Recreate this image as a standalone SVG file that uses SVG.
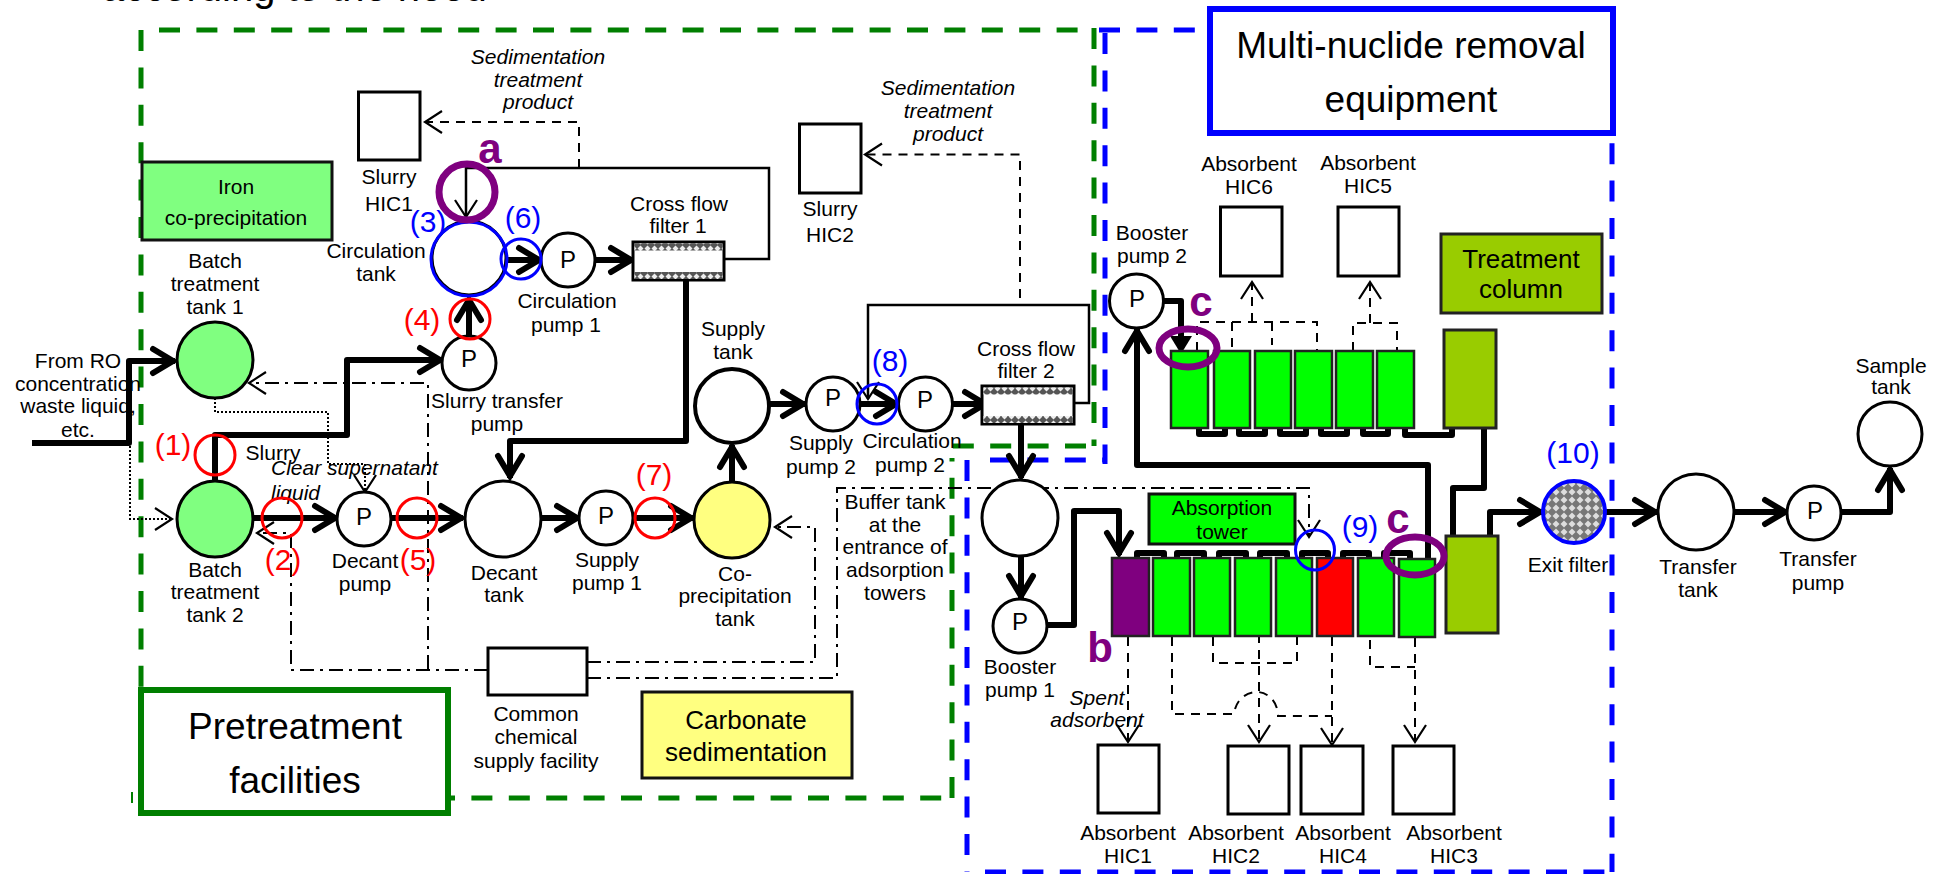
<svg xmlns="http://www.w3.org/2000/svg" width="1943" height="874" viewBox="0 0 1943 874">
<style>
text{font-family:"Liberation Sans",Arial,sans-serif;font-size:21px;text-anchor:middle;fill:#000}
.i{font-style:italic}
.big{font-size:37px}
.mid{font-size:26px}
.p{font-size:24px}
.nr{font-size:30px;fill:#f00}
.nb{font-size:30px;fill:#00f}
.pl{font-size:42px;font-weight:bold;fill:#7f007f}
.tk{fill:#fff;stroke:#000;stroke-width:3}
.hic{fill:#fff;stroke:#000;stroke-width:3}
.col{fill:#0f0;stroke:#222;stroke-width:2.5}
.th{fill:none;stroke:#000;stroke-width:6;stroke-linejoin:round}
.thA{marker-end:url(#ta)}
.tn{fill:none;stroke:#000;stroke-width:2.5}
.da{fill:none;stroke:#000;stroke-width:2;stroke-dasharray:9 7}
.dd{fill:none;stroke:#000;stroke-width:2;stroke-dasharray:14 6 3 6}
.dt{fill:none;stroke:#000;stroke-width:2;stroke-dasharray:2 2}
.u{fill:none;stroke:#000;stroke-width:6;stroke-linejoin:round;stroke-linecap:round}
.rr{fill:none;stroke:#f00;stroke-width:3}
.rb{fill:none;stroke:#00f;stroke-width:3}
.rp{fill:none;stroke:#7f007f;stroke-width:7}
.gd{fill:none;stroke:#007f00;stroke-width:5;stroke-dasharray:21 16.400}
.bd{fill:none;stroke:#00f;stroke-width:5;stroke-dasharray:21 16.400}
</style>
<defs>
<marker id="ta" markerUnits="userSpaceOnUse" markerWidth="60" markerHeight="60" refX="30" refY="30" orient="auto" viewBox="0 0 60 60" overflow="visible"><path d="M8,18 L28,30 L8,42" fill="none" stroke="#000" stroke-width="6" stroke-linecap="round" stroke-linejoin="miter"/></marker>
<marker id="oa" markerUnits="userSpaceOnUse" markerWidth="40" markerHeight="40" refX="20" refY="20" orient="auto" viewBox="0 0 40 40" overflow="visible"><path d="M3,9 L20,20 L3,31" fill="none" stroke="#000" stroke-width="2.2"/></marker>
<pattern id="hatch" width="7" height="7" patternUnits="userSpaceOnUse"><rect width="7" height="7" fill="#555"/><path d="M3.500,0.500 L6.500,3.500 L3.500,6.500 L0.500,3.500Z" fill="#eee"/></pattern>
<pattern id="hatch2" width="8" height="8" patternUnits="userSpaceOnUse"><rect width="8" height="8" fill="#777"/><path d="M4,0.500 L7.500,4 L4,7.500 L0.500,4Z" fill="#ddd"/></pattern>
</defs>

<text x="102" y="1" style="font-size:40px;text-anchor:start">according to the need</text>

<g id="regions">
<path class="gd" d="M159,30 H1078"/>
<path class="gd" d="M141,30 V798"/>
<path class="gd" d="M1094,28 V446"/>
<path class="gd" d="M1086,446 H952"/>
<path class="gd" d="M952,798 V458"/>
<path class="gd" d="M434,798 H952"/>
<path d="M132,792 V803" fill="none" stroke="#007f00" stroke-width="2"/>
<path class="bd" d="M1105,33 V464"/>
<path class="bd" d="M1099,30 H1210"/>
<path class="bd" d="M1612,31 V872"/>
<path class="bd" d="M967,460 V872"/>
<path class="bd" d="M985,872 H1612"/>
<path class="bd" d="M990,460 H1105"/>
</g>

<g id="connectors">
<path class="th thA" d="M32,443 H129 V361 H175"/>
<path class="th thA" d="M215,481 V435 H347 V360 H442"/>
<path class="th thA" d="M469,337 V298"/>
<path class="th thA" d="M507,260 H541"/>
<path class="th thA" d="M595,260 H633"/>
<path class="th thA" d="M686,280 V441 H510 V478"/>
<path class="th thA" d="M253,518 H337"/>
<path class="th thA" d="M391,518 H463"/>
<path class="th thA" d="M541,518 H579"/>
<path class="th thA" d="M633,518 H693"/>
<path class="th thA" d="M732,482 V445"/>
<path class="th thA" d="M770,404 H805"/>
<path class="th thA" d="M860,404 H898"/>
<path class="th thA" d="M952,404 H987"/>
<path class="th thA" d="M1021,424 V478"/>
<path class="th thA" d="M1021,556 V598"/>
<path class="th thA" d="M1047,625 H1074 V511 H1119 V555"/>
<path class="th thA" d="M1428,558 V465 H1137 V329"/>
<path class="th" d="M1164,301 H1181 V340"/>
<polygon points="1170,336 1192,336 1181,354" fill="#000"/>
<path class="th" d="M1484,428 V488 H1453 V536"/>
<path class="th thA" d="M1490,536 V512 H1542"/>
<path class="th thA" d="M1605,512 H1657"/>
<path class="th thA" d="M1734,512 H1787"/>
<path class="th thA" d="M1841,512 H1890 V468"/>

<path class="tn" d="M721,259 H769 V168 H466 V217" marker-end="url(#oa)"/>
<path class="tn" d="M1074,403 H1089 V305 H868 V399" marker-end="url(#oa)"/>

<path class="da" d="M579,168 V122 H425" marker-end="url(#oa)"/>
<path class="da" d="M1020,298 V154.500 H865" marker-end="url(#oa)"/>

<path class="dt" d="M215,398 V412 H328 V464 H365 V492" marker-end="url(#oa)"/>
<path class="dt" d="M130,446 V519 H172" marker-end="url(#oa)"/>

<path class="dd" d="M428,669 V383 H249" marker-end="url(#oa)"/>
<path class="dd" d="M488,670 H291 V533 H257" marker-end="url(#oa)"/>
<path class="dd" d="M587,662 H815 V527 H775" marker-end="url(#oa)"/>
<path class="dd" d="M587,678 H837 V488 H1309 V537" marker-end="url(#oa)"/>

<g id="lower-tower-links">
<path class="u" d="M1137,558 V553 H1164 V558"/>
<path class="u" d="M1177,558 V553 H1204 V558"/>
<path class="u" d="M1219,558 V553 H1246 V558"/>
<path class="u" d="M1260,558 V553 H1287 V558"/>
<path class="u" d="M1302,558 V553 H1328 V558"/>
<path class="u" d="M1343,558 V553 H1369 V558"/>
<path class="u" d="M1384,558 V553 H1410 V558"/>
</g>
<g id="upper-tower-links">
<path class="u" d="M1199,428 V434 H1225 V428"/>
<path class="u" d="M1239,428 V434 H1265 V428"/>
<path class="u" d="M1280,428 V434 H1306 V428"/>
<path class="u" d="M1321,428 V434 H1347 V428"/>
<path class="u" d="M1363,428 V434 H1388 V428"/>
<path class="u" d="M1405,428 V435 H1452 V428"/>
</g>

<path class="da" d="M1252,322 V282" marker-end="url(#oa)"/>
<path class="da" d="M1197,351 V322 H1317 V351 M1232,322 V351 M1272,322 V345"/>
<path class="da" d="M1370,323 V282" marker-end="url(#oa)"/>
<path class="da" d="M1353,351 V323 H1397 V351"/>

<path class="da" d="M1128,637 V742" marker-end="url(#oa)"/>
<path class="da" d="M1259,634 V742" marker-end="url(#oa)"/>
<path class="da" d="M1332,637 V745" marker-end="url(#oa)"/>
<path class="da" d="M1415,638 V742" marker-end="url(#oa)"/>
<path class="da" d="M1172,637 V714 H1234 C1236,698 1248,692 1257,692 C1268,692 1278,702 1278,716 H1332"/>
<path class="da" d="M1213,637 V663 H1297 V637"/>
<path class="da" d="M1370,640 V667 H1415"/>
</g>

<g id="label-from-ro">
<text x="78" y="368">From RO</text><text x="78" y="391">concentration</text><text x="78" y="413">waste liquid,</text><text x="78" y="437">etc.</text>
</g>

<g id="iron-box"><rect x="142" y="162" width="190" height="78" fill="#80ff80" stroke="#111" stroke-width="3"/><text x="236" y="194">Iron</text><text x="236" y="225">co-precipitation</text></g>

<g id="batch-1"><circle cx="215" cy="360" r="38" fill="#80ff80" stroke="#000" stroke-width="3"/><text x="215" y="268">Batch</text><text x="215" y="291">treatment</text><text x="215" y="314">tank 1</text></g>
<g id="batch-2"><circle cx="215" cy="519" r="38" fill="#80ff80" stroke="#000" stroke-width="3"/><text x="215" y="577">Batch</text><text x="215" y="599">treatment</text><text x="215" y="622">tank 2</text></g>
<text x="273" y="460">Slurry</text>
<text class="i" x="271" y="475" style="text-anchor:start">Clear supernatant</text>
<text class="i" x="271" y="500" style="text-anchor:start">liquid</text>

<g id="slurry-hic1"><rect class="hic" x="358.500" y="92" width="61.500" height="68"/><text x="389" y="184">Slurry</text><text x="389" y="211">HIC1</text></g>
<g id="sed-1"><text class="i" x="538" y="64">Sedimentation</text><text class="i" x="538" y="87">treatment</text><text class="i" x="538" y="109">product</text></g>

<g id="circ-tank"><circle class="tk" cx="469" cy="258" r="37"/><ellipse cx="469" cy="259" rx="38" ry="37" fill="none" stroke="#00f" stroke-width="3"/><text x="376" y="258">Circulation</text><text x="376" y="281">tank</text></g>
<g id="circ-pump-1"><circle class="tk" cx="568" cy="260" r="27"/><text class="p" x="568" y="268">P</text><text x="567" y="308">Circulation</text><text x="566" y="332">pump 1</text></g>
<g id="slurry-pump"><circle class="tk" cx="469" cy="363" r="27"/><text class="p" x="469" y="367">P</text><text x="497" y="408">Slurry transfer</text><text x="497" y="431">pump</text></g>

<g id="filter-1"><rect x="633" y="242" width="91" height="38" fill="#fff" stroke="#000" stroke-width="3"/><rect x="634.500" y="243.500" width="88" height="7" fill="url(#hatch)"/><rect x="634.500" y="272" width="88" height="7" fill="url(#hatch)"/><text x="679" y="211">Cross flow</text><text x="678" y="233">filter 1</text></g>

<g id="decant-pump"><circle class="tk" cx="364" cy="519" r="27"/><text class="p" x="364" y="525">P</text><text x="365" y="568">Decant</text><text x="365" y="591">pump</text></g>
<g id="decant-tank"><circle class="tk" cx="503" cy="519" r="38"/><text x="504" y="580">Decant</text><text x="504" y="602">tank</text></g>
<g id="supply-pump-1"><circle class="tk" cx="606" cy="518" r="27"/><text class="p" x="606" y="524">P</text><text x="607" y="567">Supply</text><text x="607" y="590">pump 1</text></g>
<g id="coprecip-tank"><circle cx="732" cy="520" r="38" fill="#ffff80" stroke="#000" stroke-width="3"/><text x="735" y="581">Co-</text><text x="735" y="603">precipitation</text><text x="735" y="626">tank</text></g>
<g id="supply-tank"><circle cx="732" cy="406" r="37" fill="#fff" stroke="#000" stroke-width="4"/><text x="733" y="336">Supply</text><text x="733" y="359">tank</text></g>
<g id="supply-pump-2"><circle class="tk" cx="833" cy="404" r="27"/><text class="p" x="833" y="406">P</text><text x="821" y="450">Supply</text><text x="821" y="474">pump 2</text></g>
<g id="circ-pump-2"><circle class="tk" cx="925.500" cy="404" r="27"/><text class="p" x="925" y="408">P</text><text x="912" y="448">Circulation</text><text x="910" y="472">pump 2</text></g>
<g id="filter-2"><rect x="982" y="386" width="92" height="38" fill="#fff" stroke="#000" stroke-width="3"/><rect x="983.500" y="387.500" width="89" height="7" fill="url(#hatch)"/><rect x="983.500" y="416" width="89" height="7" fill="url(#hatch)"/><text x="1026" y="356">Cross flow</text><text x="1026" y="378">filter 2</text></g>
<g id="slurry-hic2"><rect class="hic" x="799.500" y="124" width="61.500" height="69"/><text x="830" y="216">Slurry</text><text x="830" y="242">HIC2</text></g>
<g id="sed-2"><text class="i" x="948" y="95">Sedimentation</text><text class="i" x="948" y="118">treatment</text><text class="i" x="948" y="141">product</text></g>

<g id="buffer-label"><text x="895" y="509">Buffer tank</text><text x="895" y="532">at the</text><text x="895" y="554">entrance of</text><text x="895" y="577">adsorption</text><text x="895" y="600">towers</text></g>
<g id="chemical"><rect class="hic" x="488" y="648" width="99" height="47"/><text x="536" y="721">Common</text><text x="536" y="744">chemical</text><text x="536" y="768">supply facility</text></g>
<g id="carbonate-box"><rect x="642" y="692" width="210" height="86" fill="#ffff80" stroke="#111" stroke-width="3"/><text class="mid" x="746" y="729">Carbonate</text><text class="mid" x="746" y="761">sedimentation</text></g>

<g id="pretreatment"><rect x="141" y="690" width="307" height="123" fill="#fff" stroke="#007f00" stroke-width="6"/><text class="big" x="295" y="739">Pretreatment</text><text class="big" x="295" y="793">facilities</text></g>
<g id="multi-nuclide"><rect x="1210" y="9" width="403" height="124" fill="#fff" stroke="#00f" stroke-width="6"/><text class="big" x="1411" y="58">Multi-nuclide removal</text><text class="big" x="1411" y="112">equipment</text></g>

<g id="buffer-tank"><circle cx="1020" cy="518" r="38" fill="#fff" stroke="#000" stroke-width="3"/></g>
<g id="booster-1"><circle class="tk" cx="1020" cy="626" r="27"/><text class="p" x="1020" y="630">P</text><text x="1020" y="674">Booster</text><text x="1020" y="697">pump 1</text></g>
<g id="booster-2"><circle class="tk" cx="1136.500" cy="301" r="27"/><text class="p" x="1137" y="307">P</text><text x="1152" y="240">Booster</text><text x="1152" y="263">pump 2</text></g>

<g id="absorption-box"><rect x="1149" y="494" width="146" height="50" fill="#0f0" stroke="#111" stroke-width="3"/><text x="1222" y="515">Absorption</text><text x="1222" y="539">tower</text></g>
<g id="lower-tower">
<rect class="col" x="1112" y="558" width="37" height="78" style="fill:#7f007f"/>
<rect class="col" x="1153" y="558" width="37" height="78"/>
<rect class="col" x="1194" y="558" width="36" height="78"/>
<rect class="col" x="1235" y="558" width="36" height="78"/>
<rect class="col" x="1276" y="558" width="36" height="78"/>
<rect class="col" x="1317" y="558" width="36" height="78" style="fill:#f00"/>
<rect class="col" x="1358" y="558" width="36" height="78"/>
<rect class="col" x="1399" y="559" width="36" height="78"/>
</g>
<g id="upper-tower">
<rect class="col" x="1171" y="351" width="37" height="77"/>
<rect class="col" x="1214" y="351" width="36" height="77"/>
<rect class="col" x="1255" y="351" width="36" height="77"/>
<rect class="col" x="1295" y="351" width="37" height="77"/>
<rect class="col" x="1336" y="351" width="37" height="77"/>
<rect class="col" x="1377" y="351" width="37" height="77"/>
</g>
<g id="treatment-box"><rect x="1441" y="234" width="161" height="79" fill="#9c0" stroke="#222" stroke-width="3"/><text class="mid" x="1521" y="268">Treatment</text><text class="mid" x="1521" y="298">column</text></g>
<g id="treatment-upper"><rect x="1444" y="330" width="52" height="98" fill="#9c0" stroke="#222" stroke-width="3"/></g>
<g id="treatment-lower"><rect x="1446" y="536" width="52" height="97" fill="#9c0" stroke="#222" stroke-width="3"/></g>

<g id="absorbent-hic6"><rect class="hic" x="1220.500" y="207" width="61.500" height="69"/><text x="1249" y="171">Absorbent</text><text x="1249" y="194">HIC6</text></g>
<g id="absorbent-hic5"><rect class="hic" x="1338" y="207" width="61" height="69"/><text x="1368" y="170">Absorbent</text><text x="1368" y="193">HIC5</text></g>
<g id="absorbent-hic1"><rect class="hic" x="1098" y="745" width="61" height="68"/><text x="1128" y="840">Absorbent</text><text x="1128" y="863">HIC1</text></g>
<g id="absorbent-hic2"><rect class="hic" x="1228" y="746" width="61" height="68"/><text x="1236" y="840">Absorbent</text><text x="1236" y="863">HIC2</text></g>
<g id="absorbent-hic4"><rect class="hic" x="1301" y="746" width="62" height="68"/><text x="1343" y="840">Absorbent</text><text x="1343" y="863">HIC4</text></g>
<g id="absorbent-hic3"><rect class="hic" x="1393" y="746" width="61" height="68"/><text x="1454" y="840">Absorbent</text><text x="1454" y="863">HIC3</text></g>
<text class="i" x="1097" y="705">Spent</text><text class="i" x="1097" y="727">adsorbent</text>

<g id="exit-filter"><circle cx="1574" cy="512" r="31" fill="url(#hatch2)" stroke="#00f" stroke-width="4"/><text x="1568" y="572">Exit filter</text></g>
<g id="transfer-tank"><circle class="tk" cx="1696" cy="512" r="38"/><text x="1698" y="574">Transfer</text><text x="1698" y="597">tank</text></g>
<g id="transfer-pump"><circle class="tk" cx="1814" cy="513" r="27"/><text class="p" x="1815" y="519">P</text><text x="1818" y="566">Transfer</text><text x="1818" y="590">pump</text></g>
<g id="sample-tank"><circle class="tk" cx="1890" cy="434" r="32"/><text x="1891" y="373">Sample</text><text x="1891" y="394">tank</text></g>

<g id="markers">
<ellipse class="rr" cx="215" cy="455" rx="20" ry="20"/><text class="nr" x="173" y="455">(1)</text>
<ellipse class="rr" cx="282" cy="518" rx="20" ry="20"/><text class="nr" x="283" y="570">(2)</text>
<ellipse class="rr" cx="470" cy="319" rx="20" ry="20"/><text class="nr" x="422" y="330">(4)</text>
<ellipse class="rr" cx="417" cy="518" rx="20" ry="20"/><text class="nr" x="418" y="570">(5)</text>
<ellipse class="rr" cx="655" cy="518" rx="20" ry="20"/><text class="nr" x="654" y="485">(7)</text>
<text class="nb" x="428" y="232">(3)</text>
<ellipse class="rb" cx="521" cy="259" rx="20" ry="20"/><text class="nb" x="523" y="228">(6)</text>
<ellipse class="rb" cx="877" cy="404" rx="20" ry="20"/><text class="nb" x="890" y="371">(8)</text>
<ellipse class="rb" cx="1315" cy="550" rx="19.500" ry="20"/><text class="nb" x="1360" y="537">(9)</text>
<text class="nb" x="1573" y="463">(10)</text>
<ellipse class="rp" cx="467" cy="192" rx="28" ry="28"/><text class="pl" x="490" y="163">a</text>
<ellipse class="rp" cx="1188" cy="348" rx="29" ry="19"/><text class="pl" x="1201" y="316">c</text>
<ellipse class="rp" cx="1415" cy="556" rx="29" ry="19"/><text class="pl" x="1398" y="533">c</text>
<text class="pl" x="1100" y="662">b</text>
</g>
</svg>
